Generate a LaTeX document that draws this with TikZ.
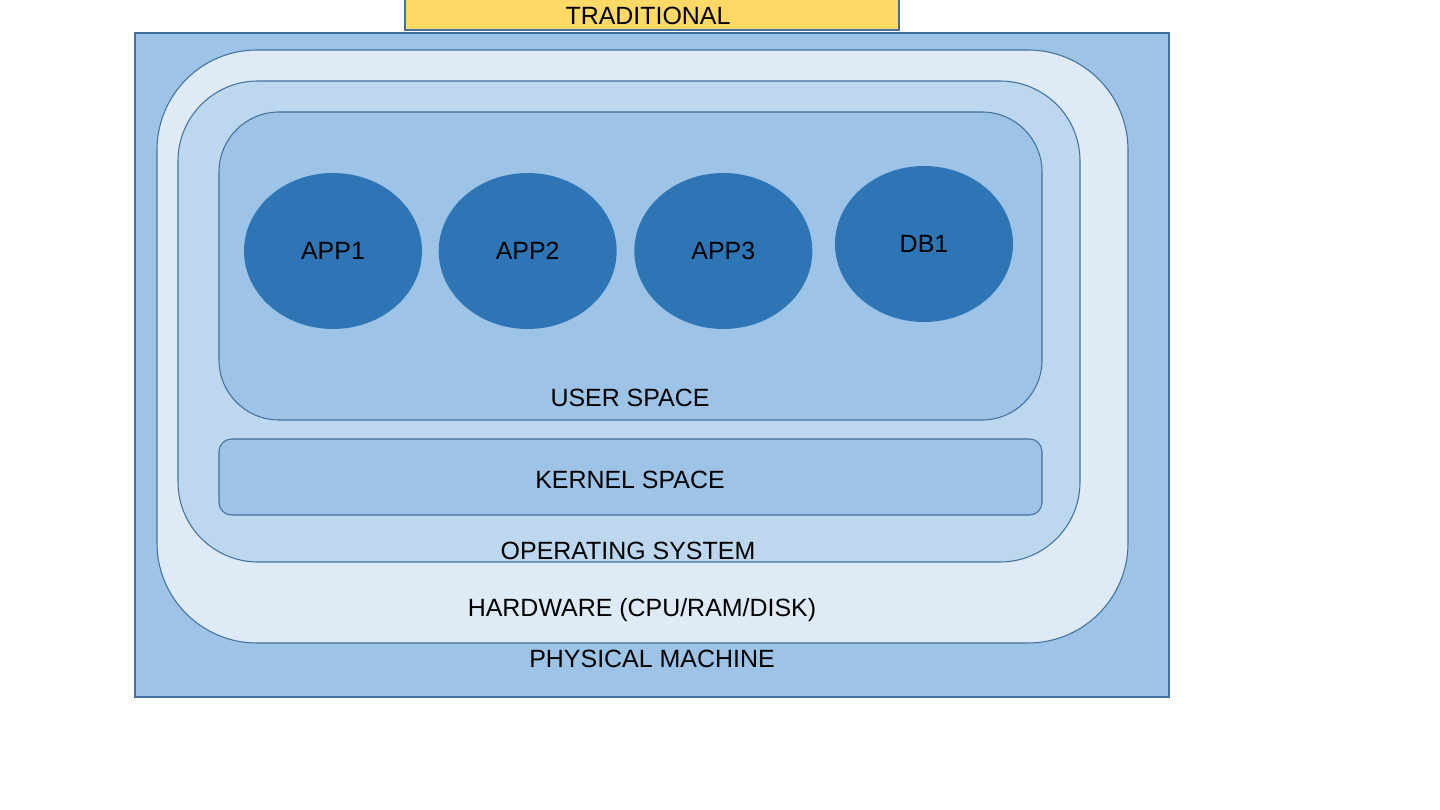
\documentclass[tikz,border=0pt]{standalone}
\usepackage{fontspec}
\setmainfont{Liberation Sans}
\usepackage{xcolor}
\usetikzlibrary{positioning}
\usetikzlibrary{shapes.geometric}
\definecolor{machineblue}{HTML}{9DC3E6}
\definecolor{hwblue}{HTML}{DEEBF7}
\definecolor{osblue}{HTML}{BDD7EE}
\definecolor{appblue}{HTML}{2E75B6}
\definecolor{edgeblue}{HTML}{41719C}
\definecolor{titleyellow}{HTML}{FFD966}
\tikzset{
  layer/.style={draw=edgeblue, line width=0.6pt},
  app/.style={ellipse, fill=appblue, minimum width=3.56cm, minimum height=3.12cm, inner sep=0pt},
  lbl/.style={font=\fontsize{14.2}{16}\selectfont, text=black, inner sep=0pt}
}

\begin{document}
\begin{tikzpicture}[x=0.02cm,y=-0.02cm]
				\useasboundingbox (0,0) rectangle (1440,810);
				
				% draw title
				\filldraw[layer, fill=titleyellow] (405,-5) rectangle (899,30);
				\node[lbl] (title) at (648,16) {TRADITIONAL};
				
				% draw physical machine
				\filldraw[layer, fill=machineblue] (135,33) rectangle (1169,697);
				\node[lbl] (machine) at (652,659) {PHYSICAL MACHINE};
				
				% draw hardware
				\filldraw[layer, fill=hwblue, rounded corners=2cm] (157,50) rectangle (1128,643);
				\node[lbl] (hardware) at (642,610) {HARDWARE (CPU/RAM/DISK)};
				
				% draw operating system
				\filldraw[layer, fill=osblue, rounded corners=1.6cm] (178,81) rectangle (1080,562);
				\node[lbl] (os) at (628,551) {OPERATING SYSTEM};
				
				% draw user and kernel space
				\filldraw[layer, fill=machineblue, rounded corners=1.2cm] (219,112) rectangle (1042,420);
				\node[lbl] (user) at (630,398) {USER SPACE};
				\filldraw[layer, fill=machineblue, rounded corners=0.25cm] (219,439) rectangle (1042,515);
				\node[lbl] (kernel) at (630,480) {KERNEL SPACE};
				
				% draw apps
				\node[app] (app1) at (333,251) {};
				\node[app, right=0.32cm of app1] (app2) {};
				\node[app, right=0.34cm of app2] (app3) {};
				\node[app] (db1) at (924,244) {};
				\node[lbl] at (app1) {APP1};
				\node[lbl] at (app2) {APP2};
				\node[lbl] at (app3) {APP3};
				\node[lbl] at (db1) {DB1};
			\end{tikzpicture}
\end{document}
